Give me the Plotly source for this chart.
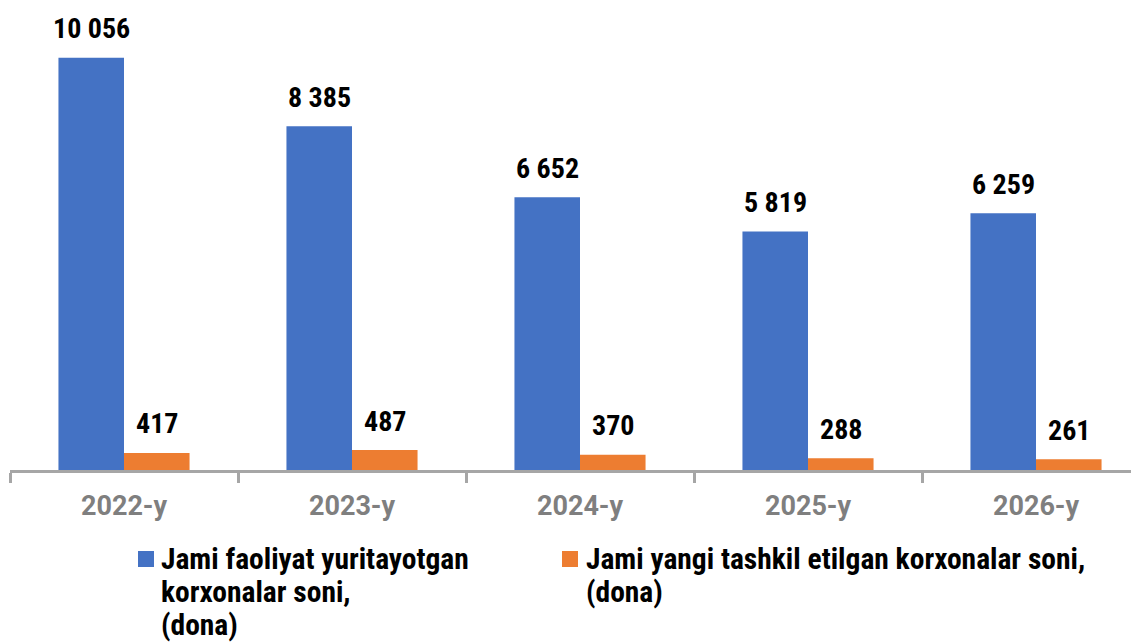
import plotly.graph_objects as go

categories = ["2022-y", "2023-y", "2024-y", "2025-y", "2026-y"]
total_active = [10056, 8385, 6652, 5819, 6259]
new_created = [417, 487, 370, 288, 261]
series_names = [
    "Jami faoliyat yuritayotgan<br>korxonalar soni,<br>(dona)",
    "Jami yangi tashkil etilgan korxonalar soni,<br>(dona)",
]
colors = ["#4472C4", "#ED7D31"]

W, H = 1139, 642
OFF = 8  # page body margin
ml, mr, mt, mb = 2, 0, 12, 180
plot_w = W - ml - mr
plot_h = H - mt - mb
px_per_cat = 228
bargap = 0.425
FONT_C = "Roboto Condensed, Roboto, sans-serif"
FONT_R = "Roboto, sans-serif"


def px_to_paper(sx, sy):
    fx, fy = sx - OFF, sy - OFF
    return (fx - ml) / plot_w, (H - mb - fy) / plot_h


fig = go.Figure()
for name, vals, col in zip(series_names, [total_active, new_created], colors):
    fig.add_trace(go.Bar(x=categories, y=vals, name=name,
                         marker=dict(color=col, line=dict(width=0))))

bar_frac = (1 - bargap) / 2
offs = [-bar_frac / 2 * px_per_cat, bar_frac / 2 * px_per_cat]
for vals, off in zip([total_active, new_created], offs):
    for c, v in zip(categories, vals):
        fig.add_annotation(x=c, y=v, text=f"{v:,}".replace(",", " "), showarrow=False,
                           xshift=off, yshift=29, yanchor="middle",
                           font=dict(family=FONT_C, size=28, color="black", weight="bold"))

# custom legend (tighter line spacing than Plotly's legend allows)
leg_sq_x = [138, 562]
leg_txt_x = [161, 586]
sq = 16
sq_top = 551
line_y = [559, 592, 625]
for name, col, sxq, sxt in zip(series_names, colors, leg_sq_x, leg_txt_x):
    x0, y0 = px_to_paper(sxq, sq_top + sq)
    x1, y1 = px_to_paper(sxq + sq, sq_top)
    fig.add_shape(type="rect", xref="paper", yref="paper", x0=x0, x1=x1, y0=y0, y1=y1,
                  fillcolor=col, line=dict(width=0))
    for ln, ly in zip(name.split("<br>"), line_y):
        tx, ty = px_to_paper(sxt - 2, ly)
        fig.add_annotation(xref="paper", yref="paper", x=tx, y=ty, text=ln, showarrow=False,
                           xanchor="left", yanchor="middle",
                           font=dict(family=FONT_C, size=29.5, color="black", weight="bold"))

fig.update_layout(
    width=W, height=H,
    margin=dict(l=ml, r=mr, t=mt, b=mb, autoexpand=False),
    paper_bgcolor="white", plot_bgcolor="white",
    barmode="group", bargap=bargap, bargroupgap=0,
    showlegend=False,
    xaxis=dict(range=[-0.5, -0.5 + plot_w / px_per_cat], showgrid=False,
               showline=True, linecolor="#A6A6A6", linewidth=3,
               ticks="outside", tickson="boundaries", ticklen=10, tickwidth=3, tickcolor="#A6A6A6",
               ticklabelstandoff=10,
               tickfont=dict(family=FONT_R, size=27, color="#7F7F7F", weight="bold")),
    yaxis=dict(range=[0, 10975], visible=False),
)

fig.write_html("out.html")
